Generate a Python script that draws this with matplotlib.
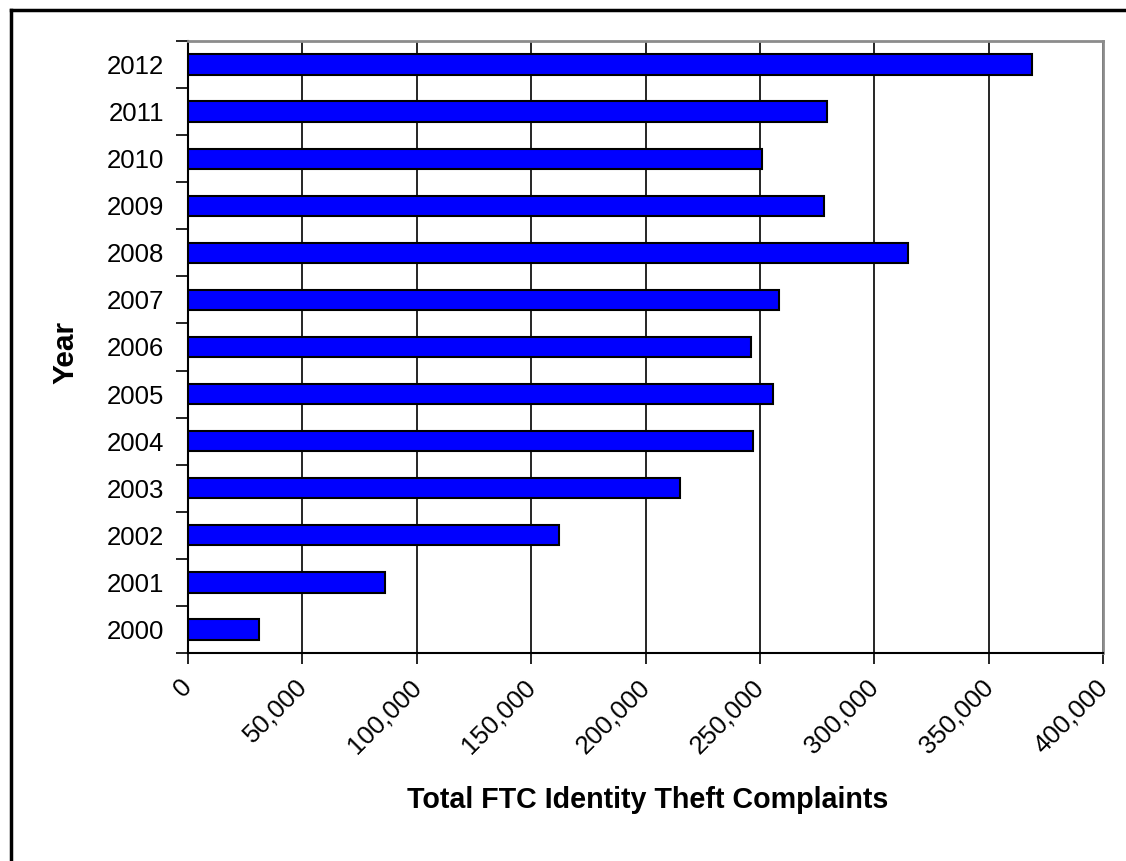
import matplotlib.pyplot as plt
from matplotlib.lines import Line2D
from matplotlib.ticker import FuncFormatter, MultipleLocator, FixedLocator
from matplotlib.transforms import ScaledTranslation
import numpy as np

years = ['2000', '2001', '2002', '2003', '2004', '2005', '2006',
         '2007', '2008', '2009', '2010', '2011', '2012']
complaints = [31117, 86250, 161977, 214905, 246909, 255627, 246035,
              258427, 314587, 278078, 251105, 279156, 369132]

plt.rcParams['font.family'] = ['Liberation Sans', 'DejaVu Sans']

W, H = 1126, 861
fig = plt.figure(figsize=(W / 100, H / 100), dpi=100)
ax = fig.add_axes([188 / W, 1 - 653 / H, (1103 - 188) / W, (653 - 41) / H])

y = np.arange(len(years))
ax.barh(y, complaints, height=0.43, color='#0000FF', edgecolor='black',
        linewidth=1.5, zorder=3)

ax.set_xlim(0, 400000)
ax.set_ylim(-0.5, len(years) - 0.5)

# x axis
ax.xaxis.set_major_locator(MultipleLocator(50000))
ax.xaxis.set_major_formatter(FuncFormatter(lambda v, p: f"{int(v):,}"))
ax.grid(axis='x', color='black', linewidth=1.2, zorder=1)
ax.tick_params(axis='x', direction='out', length=8, width=1.2, labelsize=18.5, pad=4)
shift = ScaledTranslation(-8 / 100, -5 / 100, fig.dpi_scale_trans)
for lbl in ax.get_xticklabels():
    lbl.set_rotation(45)
    lbl.set_ha('right')
    lbl.set_rotation_mode('anchor')
    lbl.set_transform(lbl.get_transform() + shift)

# y axis: labels centred on bars, ticks between categories
ax.yaxis.set_major_locator(FixedLocator(y))
ax.set_yticklabels(years)
ax.yaxis.set_minor_locator(FixedLocator(np.arange(-0.5, len(years), 1.0)))
ax.tick_params(axis='y', which='major', length=0, labelsize=18.5, pad=17)
ax.tick_params(axis='y', which='minor', direction='out', length=9, width=1.2)

for side in ['top', 'right']:
    ax.spines[side].set_color('#8c8c8c')
    ax.spines[side].set_linewidth(2)
for side in ['left', 'bottom']:
    ax.spines[side].set_color('black')
    ax.spines[side].set_linewidth(1.5)

fig.text(648 / W, 1 - 808 / H, 'Total FTC Identity Theft Complaints',
         fontsize=20.6, fontweight='bold', ha='center', va='baseline')
fig.text(65 / W, 1 - 352 / H, 'Year', fontsize=21.5, fontweight='bold',
         rotation=90, ha='center', va='center')

# outer frame (left and top edges)
fig.add_artist(Line2D([11 / W, 11 / W], [0, 1 - 10 / H], transform=fig.transFigure,
                      color='black', linewidth=2.5))
fig.add_artist(Line2D([11 / W, 1], [1 - 10 / H, 1 - 10 / H], transform=fig.transFigure,
                      color='black', linewidth=2.5))

fig.savefig('out.png', dpi=100)
